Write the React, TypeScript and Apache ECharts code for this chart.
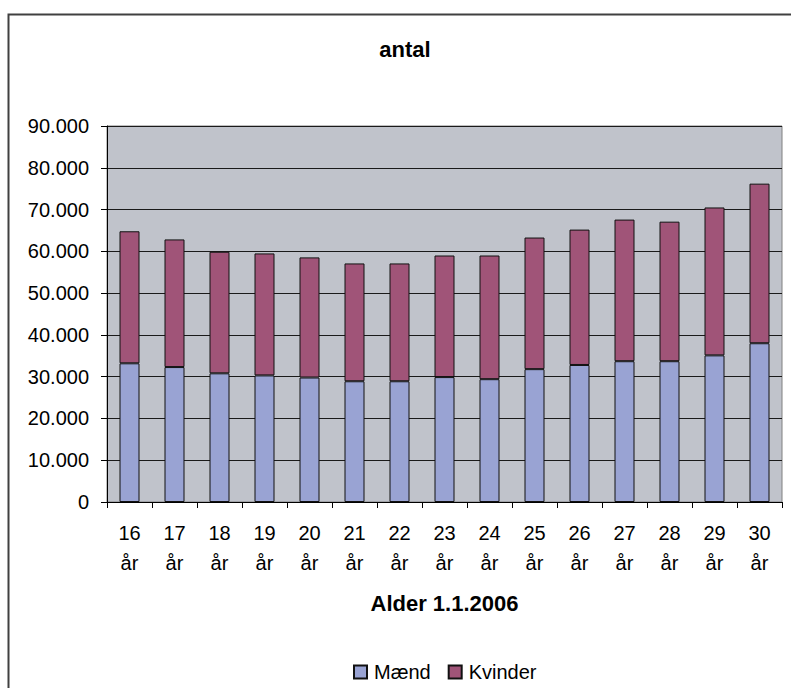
import React, { useEffect, useRef } from "react";
import * as echarts from "echarts";

const ages = [16, 17, 18, 19, 20, 21, 22, 23, 24, 25, 26, 27, 28, 29, 30];
const categories = ages.map((a) => `${a}\når`);
const maend = [33200, 32300, 30800, 30300, 29800, 28900, 28900, 29900, 29400, 31800, 32800, 33700, 33700, 35100, 38000];
const kvinder = [31600, 30550, 29100, 29200, 28750, 28200, 28200, 29100, 29600, 31500, 32400, 33900, 33400, 35400, 38200];
const seriesNames = ["Mænd", "Kvinder"];
const titleText = "antal";
const xAxisTitle = "Alder 1.1.2006";

const FONT = "'Liberation Sans', Arial, sans-serif";

function fmt(v: number): string {
  if (v === 0) return "0";
  return `${Math.round(v / 1000)}.000`;
}

export default function App() {
  const ref = useRef<HTMLDivElement>(null);
  useEffect(() => {
    if (!ref.current) return;
    const chart = echarts.init(ref.current, undefined, { renderer: "svg" });
    chart.setOption({
      animation: false,
      backgroundColor: "#ffffff",
      textStyle: { fontFamily: FONT },
      graphic: [
        {
          type: "rect",
          shape: { x: 8.5, y: 14.5, width: 900, height: 800 },
          style: { fill: "none", stroke: "#404040", lineWidth: 2 },
          silent: true,
          z: 100,
        },
        {
          type: "text",
          x: 405,
          y: 49,
          style: {
            text: titleText,
            fontFamily: FONT,
            fontSize: 22,
            fontWeight: "bold",
            fill: "#000",
            align: "center",
            verticalAlign: "middle",
          },
        },
      ],
      legend: {
        left: 353,
        top: 662,
        padding: 0,
        itemWidth: 13,
        itemHeight: 13,
        itemGap: 17,
        icon: "rect",
        textStyle: { fontFamily: FONT, fontSize: 20, color: "#000", padding: [0, 0, 0, 2] },
        data: seriesNames,
      },
      grid: {
        left: 107,
        top: 126,
        width: 675,
        height: 376,
        show: true,
        backgroundColor: "#C0C3CB",
        borderColor: "#808080",
        borderWidth: 1,
      },
      xAxis: {
        type: "category",
        data: categories,
        name: xAxisTitle,
        nameLocation: "middle",
        nameGap: 90,
        nameTextStyle: { fontFamily: FONT, fontSize: 22, fontWeight: "bold", color: "#000" },
        axisLine: { show: true, lineStyle: { color: "#000", width: 1 } },
        axisTick: { show: true, length: 6, interval: 0, lineStyle: { color: "#000" } },
        axisLabel: {
          interval: 0,
          margin: 16,
          fontFamily: FONT,
          fontSize: 20,
          lineHeight: 30,
          color: "#000",
        },
      },
      yAxis: {
        type: "value",
        min: 0,
        max: 90000,
        interval: 10000,
        axisLine: { show: true, lineStyle: { color: "#000", width: 1 } },
        axisTick: { show: true, length: 6, lineStyle: { color: "#000" } },
        axisLabel: {
          margin: 18,
          fontFamily: FONT,
          fontSize: 20,
          color: "#000",
          formatter: (v: number) => fmt(v),
        },
        splitLine: { show: true, lineStyle: { color: "#1a1a1a", width: 1 } },
      },
      series: [
        {
          name: seriesNames[0],
          type: "bar",
          stack: "total",
          barWidth: 20,
          data: maend,
          itemStyle: { color: "#99A3D3", borderColor: "#111", borderWidth: 1 },
        },
        {
          name: seriesNames[1],
          type: "bar",
          stack: "total",
          barWidth: 20,
          data: kvinder,
          itemStyle: { color: "#A05478", borderColor: "#111", borderWidth: 1 },
        },
      ],
    });
    return () => chart.dispose();
  }, []);
  return (
    <div
      ref={ref}
      style={{ position: "absolute", left: 0, top: 0, width: 791, height: 688 }}
    />
  );
}
